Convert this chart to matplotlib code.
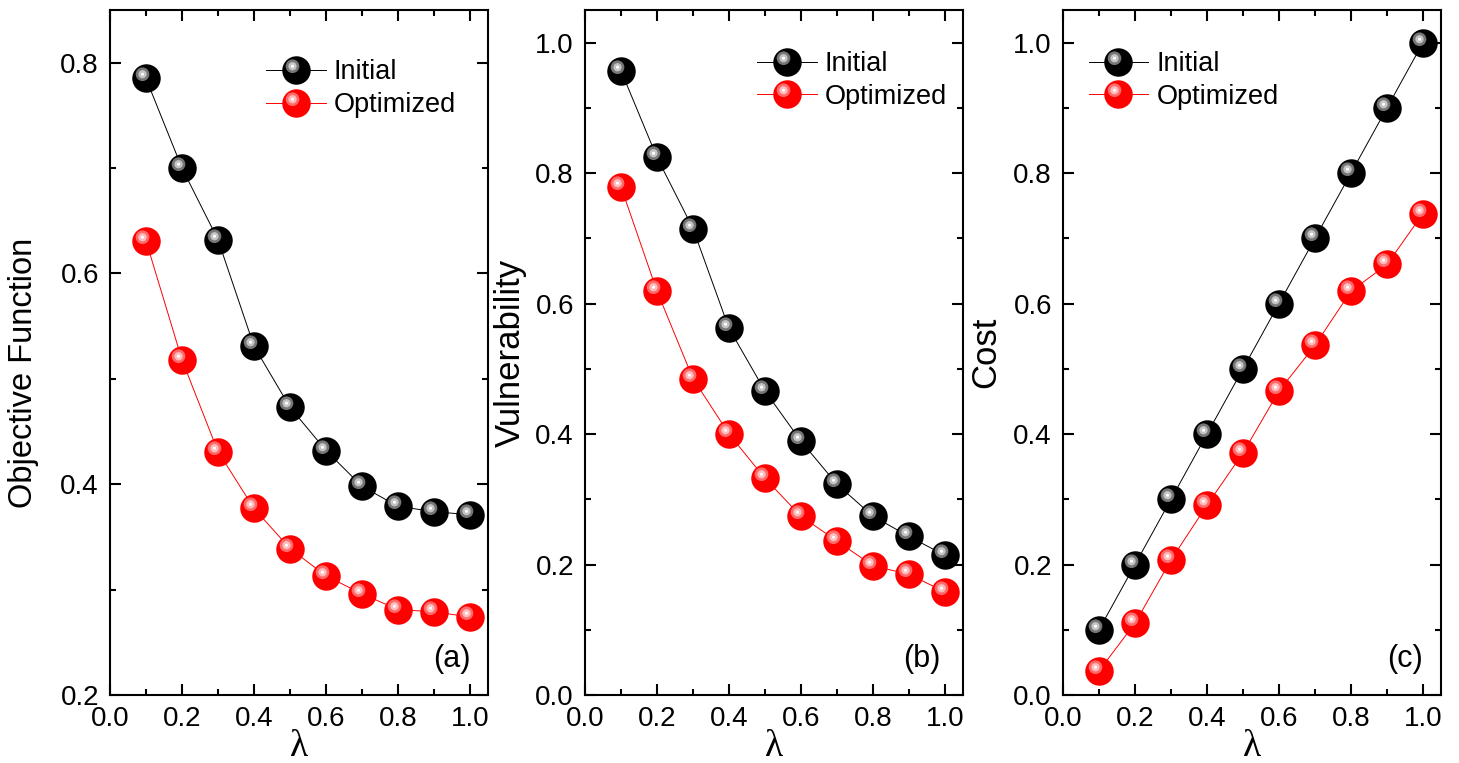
import numpy as np
import matplotlib
matplotlib.use("Agg")
import matplotlib.pyplot as plt
from matplotlib.path import Path
from matplotlib.ticker import MultipleLocator, FormatStrFormatter
from matplotlib.legend_handler import HandlerTuple

plt.rcParams['font.family'] = ['Liberation Sans', 'DejaVu Sans']

# data
lam = [0.1, 0.2, 0.3, 0.4, 0.5, 0.6, 0.7, 0.8, 0.9, 1.0]

obj_init = [0.785, 0.700, 0.632, 0.531, 0.473, 0.432, 0.398, 0.379, 0.374, 0.371]
obj_opt = [0.631, 0.518, 0.431, 0.377, 0.339, 0.313, 0.296, 0.281, 0.279, 0.274]

vul_init = [0.957, 0.824, 0.715, 0.562, 0.466, 0.389, 0.323, 0.274, 0.243, 0.214]
vul_opt = [0.779, 0.619, 0.485, 0.400, 0.332, 0.274, 0.236, 0.198, 0.185, 0.158]

cost_init = [0.1, 0.2, 0.3, 0.4, 0.5, 0.6, 0.7, 0.8, 0.9, 1.0]
cost_opt = [0.037, 0.110, 0.207, 0.291, 0.371, 0.466, 0.536, 0.619, 0.660, 0.738]

panels = [
    ("Objective Function", "(a)", obj_init, obj_opt, (0.2, 0.85)),
    ("Vulnerability", "(b)", vul_init, vul_opt, (0.0, 1.05)),
    ("Cost", "(c)", cost_init, cost_opt, (0.0, 1.05)),
]
lefts = [110, 585, 1063]
leg_x = [0.413, 0.455, 0.068]
leg_y = [0.928, 0.940, 0.940]
lab_x = [0.955, 0.94, 0.952]
ylab_size = [23.5, 25, 25]
ylab_pos = [0.47, 0.5, 0.5]
ylabpad = [15, 6, 8]


def blob(cx, cy, r):
    # small offset circle used as a marker; the two moveto points fix the scale
    c = Path.circle((cx, cy), r)
    verts = np.vstack([[[-1, -1], [1, 1]], c.vertices])
    codes = np.concatenate([[Path.MOVETO, Path.MOVETO], c.codes])
    return Path(verts, codes)


hl1 = blob(-0.28, 0.30, 0.48)
hl2 = blob(-0.28, 0.30, 0.29)
hl3 = blob(-0.28, 0.30, 0.11)


def sphere(ax, x, y, base, c1, c2):
    ms = 20.5
    ln, = ax.plot(x, y, '-', color=base, lw=0.7, marker='o', ms=ms,
                  mfc=base, mec=base, mew=0, zorder=3)
    a, = ax.plot(x, y, ls='none', marker=hl1, ms=ms, mfc=c1, mew=0, zorder=4)
    b, = ax.plot(x, y, ls='none', marker=hl2, ms=ms, mfc=c2, mew=0, zorder=5)
    c, = ax.plot(x, y, ls='none', marker=hl3, ms=ms, mfc='white', mew=0, zorder=6)
    return (ln, a, b, c)


fig = plt.figure(figsize=(14.59, 7.63), dpi=100)

for i, (ylab, tag, yi, yo, ylim) in enumerate(panels):
    ax = fig.add_axes([lefts[i] / 1459, 1 - 695 / 763, 378 / 1459, 685 / 763])
    h1 = sphere(ax, lam, yi, 'black', '#767676', '#c4c4c4')
    h2 = sphere(ax, lam, yo, '#ff0000', '#ff6a6a', '#ffbcbc')
    ax.set_xlim(0, 1.05)
    ax.set_ylim(*ylim)
    ax.xaxis.set_major_locator(MultipleLocator(0.2))
    ax.xaxis.set_minor_locator(MultipleLocator(0.1))
    ax.yaxis.set_major_locator(MultipleLocator(0.2))
    ax.yaxis.set_minor_locator(MultipleLocator(0.1))
    ax.xaxis.set_major_formatter(FormatStrFormatter('%.1f'))
    ax.yaxis.set_major_formatter(FormatStrFormatter('%.1f'))
    ax.tick_params(which='both', direction='in', top=True, right=True,
                   labelsize=20, width=1.5)
    ax.tick_params(which='major', length=8, pad=8)
    ax.tick_params(which='minor', length=4.5)
    for s in ax.spines.values():
        s.set_linewidth(1.5)
    ax.set_xlabel("λ", fontsize=27, labelpad=-2, family='Liberation Serif')
    ax.set_ylabel(ylab, fontsize=ylab_size[i], labelpad=ylabpad[i],
                  y=ylab_pos[i])
    ax.text(lab_x[i], 0.03, tag, transform=ax.transAxes, ha='right',
            va='bottom', fontsize=22)
    ax.legend([h1, h2], ['Initial', 'Optimized'],
              handler_map={tuple: HandlerTuple(ndivide=1)},
              loc='upper left', bbox_to_anchor=(leg_x[i], leg_y[i]),
              frameon=False, fontsize=19.5, handlelength=2.2,
              handletextpad=0.3, labelspacing=0.25, borderpad=0,
              borderaxespad=0)

fig.savefig("out.png", dpi=100)
